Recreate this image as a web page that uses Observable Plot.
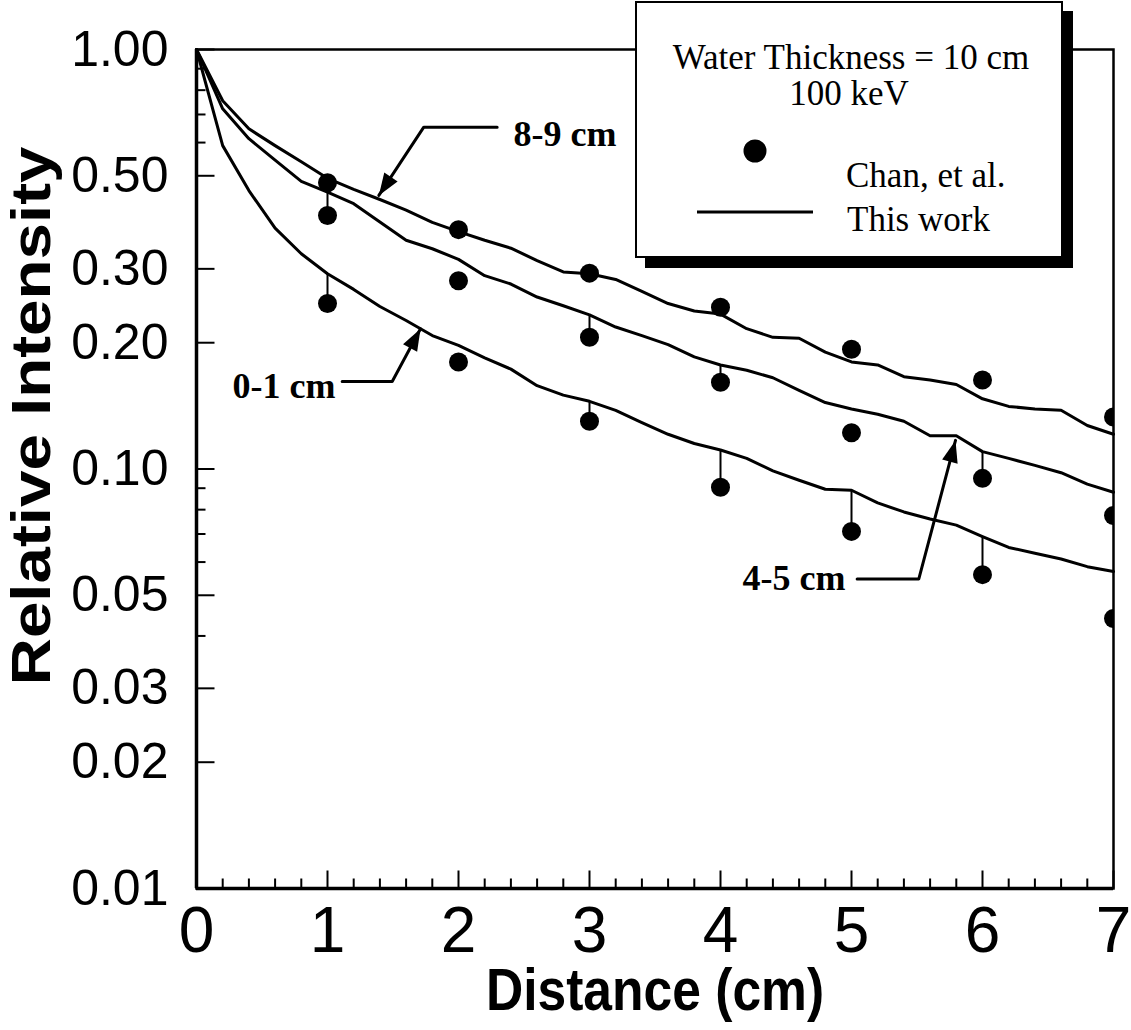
<!DOCTYPE html>
<html><head><meta charset="utf-8">
<script src="https://cdn.jsdelivr.net/npm/d3@7"></script>
<script src="https://cdn.jsdelivr.net/npm/@observablehq/plot@0.6"></script>
<style>
body{margin:0;background:#fff;}
#wrap{position:relative;width:1131px;height:1030px;}
#legend{position:absolute;left:635px;top:1px;font-family:"Liberation Serif","Times New Roman",serif;font-size:35px;}
</style></head><body><div id="wrap"></div>
<script>
// ---- data ----
const distance = [0,0.2,0.4,0.6,0.8,1.0,1.2,1.4,1.6,1.8,2.0,2.2,2.4,2.6,2.8,3.0,3.2,3.4,3.6,3.8,4.0,4.2,4.4,4.6,4.8,5.0,5.2,5.4,5.6,5.8,6.0,6.2,6.4,6.6,6.8,7.0];
const series = ["8-9 cm","4-5 cm","0-1 cm"];
const curve89 = [1.000,0.755,0.647,0.590,0.540,0.493,0.464,0.439,0.414,0.387,0.368,0.351,0.336,0.314,0.295,0.292,0.283,0.265,0.248,0.238,0.234,0.216,0.206,0.205,0.190,0.180,0.177,0.166,0.163,0.159,0.147,0.141,0.139,0.138,0.127,0.121];
const curve45 = [1.000,0.722,0.613,0.545,0.485,0.457,0.429,0.388,0.351,0.335,0.316,0.289,0.276,0.257,0.245,0.233,0.218,0.208,0.198,0.185,0.177,0.172,0.165,0.154,0.144,0.139,0.135,0.130,0.120,0.120,0.110,0.106,0.102,0.098,0.092,0.088];
const curve01 = [1.000,0.590,0.461,0.375,0.326,0.292,0.268,0.244,0.226,0.208,0.197,0.184,0.173,0.158,0.150,0.145,0.138,0.129,0.121,0.115,0.111,0.106,0.099,0.094,0.0895,0.089,0.083,0.079,0.076,0.0735,0.069,0.065,0.063,0.061,0.0585,0.057];
const dotDistance = [1,2,3,4,5,6,7];
const chan89 = [0.481,0.372,0.293,0.243,0.193,0.163,0.133];
const chan45 = [0.402,0.281,0.206,0.161,0.122,0.095,0.0775];
const chan01 = [0.248,0.180,0.130,0.0905,0.071,0.056,0.044];
const stemSeries = ["4-5 cm","0-1 cm","4-5 cm","0-1 cm","4-5 cm","0-1 cm","0-1 cm","4-5 cm","0-1 cm"];
const stemDistance = [1,1,3,3,4,4,5,6,6];
const xTicksMajor = [0,1,2,3,4,5,6,7];
const xTicksMinor = [0.2,0.4,0.6,0.8,1.2,1.4,1.6,1.8,2.2,2.4,2.6,2.8,3.2,3.4,3.6,3.8,4.2,4.4,4.6,4.8,5.2,5.4,5.6,5.8,6.2,6.4,6.6,6.8];
const yTicksMajor = [1,0.5,0.3,0.2,0.1,0.05,0.03,0.02,0.01];
const yTickLabels = ["1.00","0.50","0.30","0.20","0.10","0.05","0.03","0.02","0.01"];
const yTicksMinor = [0.9,0.8,0.7,0.6,0.09,0.08,0.07,0.06,0.04];
const annLabels = ["8-9 cm","0-1 cm","4-5 cm"];
const annTextX = [2.42,1.061,4.954];
const annTextY = [0.627,0.1577,0.0548];
const annTextAnchor = ["start","end","end"];
const annPathX = [[2.295,1.735,1.392],[1.112,1.494,1.71],[5.043,5.514,5.794]];
const annPathY = [[0.653,0.653,0.449],[0.1617,0.1617,0.216],[0.0547,0.0547,0.117]];

// ---- layout ----
const W = 1131, H = 1030, mL = 196, mR = 18, mT = 49, mB = 142;
const curveValues = [curve89, curve45, curve01];
const chanValues = [chan89, chan45, chan01];

const lineData = series.flatMap((s,k) => distance.map((d,i) => ({series:s, x:d, y:curveValues[k][i]})));
const dotData = series.flatMap((s,k) => dotDistance.map((d,i) => ({series:s, x:d, y:chanValues[k][i]})));
const stemData = stemDistance.map((d,i) => {
  const k = series.indexOf(stemSeries[i]);
  return {x:d, y1:curveValues[k][distance.indexOf(d)], y2:chanValues[k][dotDistance.indexOf(d)]};
});
const annLines = annLabels.flatMap((l,k) => annPathX[k].map((x,j) => ({label:l, x, y:annPathY[k][j]})));
const annText = annLabels.map((l,k) => ({label:l, x:annTextX[k], y:annTextY[k], anchor:annTextAnchor[k]}));

// pixel scales (same domain/range as the plot) to orient arrowheads
const sx = d3.scaleLinear().domain([0,7]).range([mL, W-mR]);
const sy = d3.scaleLog().domain([0.01,1]).range([H-mB, mT]);
const annHeads = annLabels.map((l,k) => {
  const n = annPathX[k].length;
  const dx = sx(annPathX[k][n-1]) - sx(annPathX[k][n-2]);
  const dy = sy(annPathY[k][n-1]) - sy(annPathY[k][n-2]);
  return {x:annPathX[k][n-1], y:annPathY[k][n-1], angle: Math.atan2(dx, -dy) * 180 / Math.PI};
});

const vTick = len => ({draw(c){c.moveTo(0,0); c.lineTo(0,-len);}});
const hTick = len => ({draw(c){c.moveTo(0,0); c.lineTo(len,0);}});
const arrowHead = {draw(c){c.moveTo(0,0); c.lineTo(8,22); c.lineTo(-8,22); c.closePath();}};
const serif = "'Liberation Serif', 'Times New Roman', serif";

const chart = Plot.plot({
  width: W, height: H, marginLeft: mL, marginRight: mR, marginTop: mT, marginBottom: mB,
  x: {domain: [0,7]},
  y: {type: "log", domain: [0.01, 1]},
  style: {background: "white", color: "black", fontFamily: "'Liberation Sans', Arial, sans-serif", overflow: "visible"},
  marks: [
    Plot.frame({stroke: "black", strokeWidth: 2.5}),
    Plot.ruleX([0], {stroke: "black", strokeWidth: 3.5}),
    Plot.ruleY([0.01], {stroke: "black", strokeWidth: 3.5}),
    Plot.dot(xTicksMinor, {x: d => d, y: () => 0.01, symbol: vTick(10), fill: "none", stroke: "black", strokeWidth: 2}),
    Plot.dot(xTicksMajor, {x: d => d, y: () => 0.01, symbol: vTick(18), fill: "none", stroke: "black", strokeWidth: 2}),
    Plot.dot(yTicksMinor, {x: () => 0, y: d => d, symbol: hTick(9), fill: "none", stroke: "black", strokeWidth: 2}),
    Plot.dot(yTicksMajor, {x: () => 0, y: d => d, symbol: hTick(18), fill: "none", stroke: "black", strokeWidth: 2}),
    Plot.axisX({ticks: xTicksMajor, tickSize: 0, tickPadding: 18, fontSize: 64, label: null, tickFormat: d => String(d)}),
    Plot.axisY({ticks: yTicksMajor, tickSize: 0, tickPadding: 28, fontSize: 50, label: null, tickFormat: d => yTickLabels[yTicksMajor.indexOf(d)]}),
    Plot.line(lineData, {x: "x", y: "y", z: "series", stroke: "black", strokeWidth: 3, strokeLinejoin: "round"}),
    Plot.ruleX(stemData, {x: "x", y1: "y1", y2: "y2", stroke: "black", strokeWidth: 2}),
    Plot.dot(dotData, {x: "x", y: "y", r: 9.5, fill: "black", stroke: "none", clip: true}),
    Plot.line(annLines, {x: "x", y: "y", z: "label", stroke: "black", strokeWidth: 3}),
    Plot.dot(annHeads, {x: "x", y: "y", symbol: arrowHead, rotate: "angle", fill: "black", stroke: "none"}),
    Plot.text(annText.filter(d => d.anchor === "start"), {x: "x", y: "y", text: "label", textAnchor: "start", lineAnchor: "middle", fontSize: 36, fontWeight: "bold", fontFamily: serif}),
    Plot.text(annText.filter(d => d.anchor === "end"), {x: "x", y: "y", text: "label", textAnchor: "end", lineAnchor: "middle", fontSize: 36, fontWeight: "bold", fontFamily: serif}),
    Plot.text(["Distance (cm)"], {text: d => d, frameAnchor: "bottom", textAnchor: "middle", lineAnchor: "middle", dy: 102, fontSize: 60, fontWeight: "bold"}),
    Plot.text(["Relative Intensity"], {text: d => d, frameAnchor: "left", textAnchor: "middle", lineAnchor: "middle", dx: -164, dy: -53, rotate: -90, fontSize: 56, fontWeight: "bold"})
  ]
});

function stretch(el, kx, ky) {
  const t = el.getAttribute("transform") || "";
  el.setAttribute("transform", `${t} scale(${kx},${ky})`);
}
chart.querySelectorAll("text").forEach(t => {
  if (t.textContent === "Distance (cm)") stretch(t, 0.86, 1);
  if (t.textContent === "Relative Intensity") stretch(t, 1.17, 1);
});

const wrap = document.getElementById("wrap");
wrap.appendChild(chart);
wrap.insertAdjacentHTML("beforeend", `
<svg id="legend" width="440" height="270" xmlns="http://www.w3.org/2000/svg">
  <rect x="10" y="10" width="428" height="257" fill="black"/>
  <rect x="1" y="1" width="426" height="255" fill="white" stroke="black" stroke-width="2"/>
  <text x="216" y="68" text-anchor="middle">Water Thickness = 10 cm</text>
  <text x="214" y="104" text-anchor="middle">100 keV</text>
  <circle cx="120" cy="150" r="11.5" fill="black"/>
  <text x="211" y="186">Chan, et al.</text>
  <line x1="62" y1="211" x2="178" y2="211" stroke="black" stroke-width="3"/>
  <text x="212" y="230">This work</text>
</svg>`);
</script>
</body></html>
